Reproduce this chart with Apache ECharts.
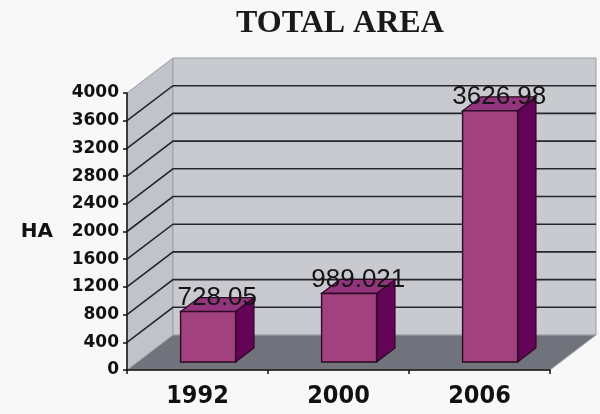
<!DOCTYPE html>
<html>
<head>
<meta charset="utf-8">
<script src="https://cdn.jsdelivr.net/npm/echarts@6/dist/echarts.min.js"></script>
<style>
  html, body { margin: 0; padding: 0; background: #f8f8f8; }
  #chart { width: 600px; height: 414px; }
</style>
</head>
<body>
<div id="chart"></div>
<script>
// Total area (ha) by survey year
const years = ['1992', '2000', '2006'];
const totalArea = [728.05, 989.021, 3626.98];
const yTicks = [0, 400, 800, 1200, 1600, 2000, 2400, 2800, 3200, 3600, 4000];

// Oblique depth of the 3-D box, in pixels, and where the bars sit inside it
const DEPTH = [46, -35];
const BAR_FRONT = 0.23;
const BAR_BACK = 0.63;
const BAR_WIDTH = 0.39; // share of one category band

const yMin = yTicks[0];
const yMax = yTicks[yTicks.length - 1];
const yStep = yTicks[1] - yTicks[0];

const chart = echarts.init(document.getElementById('chart'));

// Walls, gridlines and floor of the box, placed through the axes
function renderBox(params, api) {
  const band = api.size([1, 0])[0];
  const first = api.coord([0, yMin]);
  const L = first[0] - band / 2;
  const R = api.coord([years.length - 1, yMin])[0] + band / 2;
  const yBot = first[1];
  const yTop = api.coord([0, yMax])[1];
  const dx = DEPTH[0], dy = DEPTH[1];
  const children = [];

  children.push({
    type: 'polygon',
    shape: { points: [[L, yBot], [L, yTop], [L + dx, yTop + dy], [L + dx, yBot + dy]] },
    style: { fill: '#c1c3ca', stroke: '#9c9ea5', lineWidth: 1 }
  });
  children.push({
    type: 'rect',
    shape: { x: L + dx, y: yTop + dy, width: R - L, height: yBot - yTop },
    style: { fill: '#c8cad0', stroke: '#9c9ea5', lineWidth: 1 }
  });
  yTicks.forEach(function (v) {
    if (v === yMin || v === yMax) return;
    const y = api.coord([0, v])[1];
    children.push({
      type: 'polyline',
      shape: { points: [[L, y], [L + dx, y + dy], [R + dx, y + dy]] },
      style: { stroke: '#26262e', lineWidth: 1.6, fill: null }
    });
  });
  children.push({
    type: 'polygon',
    shape: { points: [[L, yBot], [R, yBot], [R + dx, yBot + dy], [L + dx, yBot + dy]] },
    style: { fill: '#70737c', stroke: '#a4a6ac', lineWidth: 1 }
  });
  return { type: 'group', children: children };
}

// One 3-D column with its value printed on top
function renderBar(params, api) {
  const i = api.value(0);
  const v = api.value(1);
  const band = api.size([1, 0])[0];
  const base = api.coord([i, 0]);
  const top = api.coord([i, v]);
  const w = band * BAR_WIDTH;
  const fx = DEPTH[0] * BAR_FRONT, fy = DEPTH[1] * BAR_FRONT;
  const bx = DEPTH[0] * (BAR_BACK - BAR_FRONT), by = DEPTH[1] * (BAR_BACK - BAR_FRONT);
  const x1 = base[0] - w / 2 + fx;
  const x2 = base[0] + w / 2 + fx;
  const yb = base[1] + fy;
  const yt = top[1] + fy;
  const edge = '#2a0a24';
  return {
    type: 'group',
    children: [
      {
        type: 'polygon',
        shape: { points: [[x2, yb], [x2, yt], [x2 + bx, yt + by], [x2 + bx, yb + by]] },
        style: { fill: '#640458', stroke: edge, lineWidth: 1.2 }
      },
      {
        type: 'polygon',
        shape: { points: [[x1, yt], [x2, yt], [x2 + bx, yt + by], [x1 + bx, yt + by]] },
        style: { fill: '#93357c', stroke: edge, lineWidth: 1.2 }
      },
      {
        type: 'rect',
        shape: { x: x1, y: yt, width: x2 - x1, height: yb - yt },
        style: { fill: '#a1427f', stroke: edge, lineWidth: 1.4 }
      },
      {
        type: 'text',
        style: {
          text: String(v),
          x: (x1 + x2) / 2 + bx / 2,
          y: yt - 14,
          align: 'center',
          verticalAlign: 'middle',
          fill: '#151515',
          font: '26px "Liberation Sans", Arial, sans-serif'
        }
      }
    ]
  };
}

chart.setOption({
  backgroundColor: '#f8f8f8',
  animation: false,
  title: {
    text: 'TOTAL AREA',
    left: 231,
    top: 3,
    textStyle: {
      fontFamily: '"Liberation Serif", "Times New Roman", serif',
      fontWeight: 'bold',
      fontSize: 32,
      color: '#1a1a1a'
    }
  },
  grid: { left: 127, top: 93, width: 423, height: 277 },
  xAxis: {
    type: 'category',
    data: years,
    z: 10,
    axisLine: { lineStyle: { color: '#111', width: 1.5 } },
    axisTick: { show: true, length: 4, lineStyle: { color: '#111', width: 1.5 } },
    axisLabel: {
      margin: 14,
      color: '#111',
      fontFamily: '"DejaVu Sans Condensed", sans-serif',
      fontWeight: 'bold',
      fontSize: 25
    },
    splitLine: { show: false }
  },
  yAxis: {
    type: 'value',
    min: yMin,
    max: yMax,
    interval: yStep,
    z: 10,
    name: 'HA',
    nameLocation: 'middle',
    nameRotate: 0,
    nameGap: 74,
    nameTextStyle: {
      fontFamily: '"DejaVu Sans", sans-serif',
      fontWeight: 'bold',
      fontSize: 20,
      color: '#111'
    },
    axisLine: { show: true, lineStyle: { color: '#111', width: 1.5 } },
    axisTick: { show: true, length: 4, lineStyle: { color: '#111', width: 1.5 } },
    axisLabel: {
      margin: 8,
      color: '#111',
      fontFamily: '"DejaVu Sans", sans-serif',
      fontWeight: 'bold',
      fontSize: 17,
      formatter: function (v) { return String(v); }
    },
    splitLine: { show: false }
  },
  series: [
    {
      type: 'custom',
      name: 'box',
      silent: true,
      clip: false,
      z: 1,
      data: [[0, 0]],
      renderItem: renderBox
    },
    {
      type: 'custom',
      name: 'TOTAL AREA',
      clip: false,
      z: 3,
      encode: { x: 0, y: 1 },
      data: years.map(function (y, i) { return [i, totalArea[i]]; }),
      renderItem: renderBar
    }
  ]
});
</script>
</body>
</html>
